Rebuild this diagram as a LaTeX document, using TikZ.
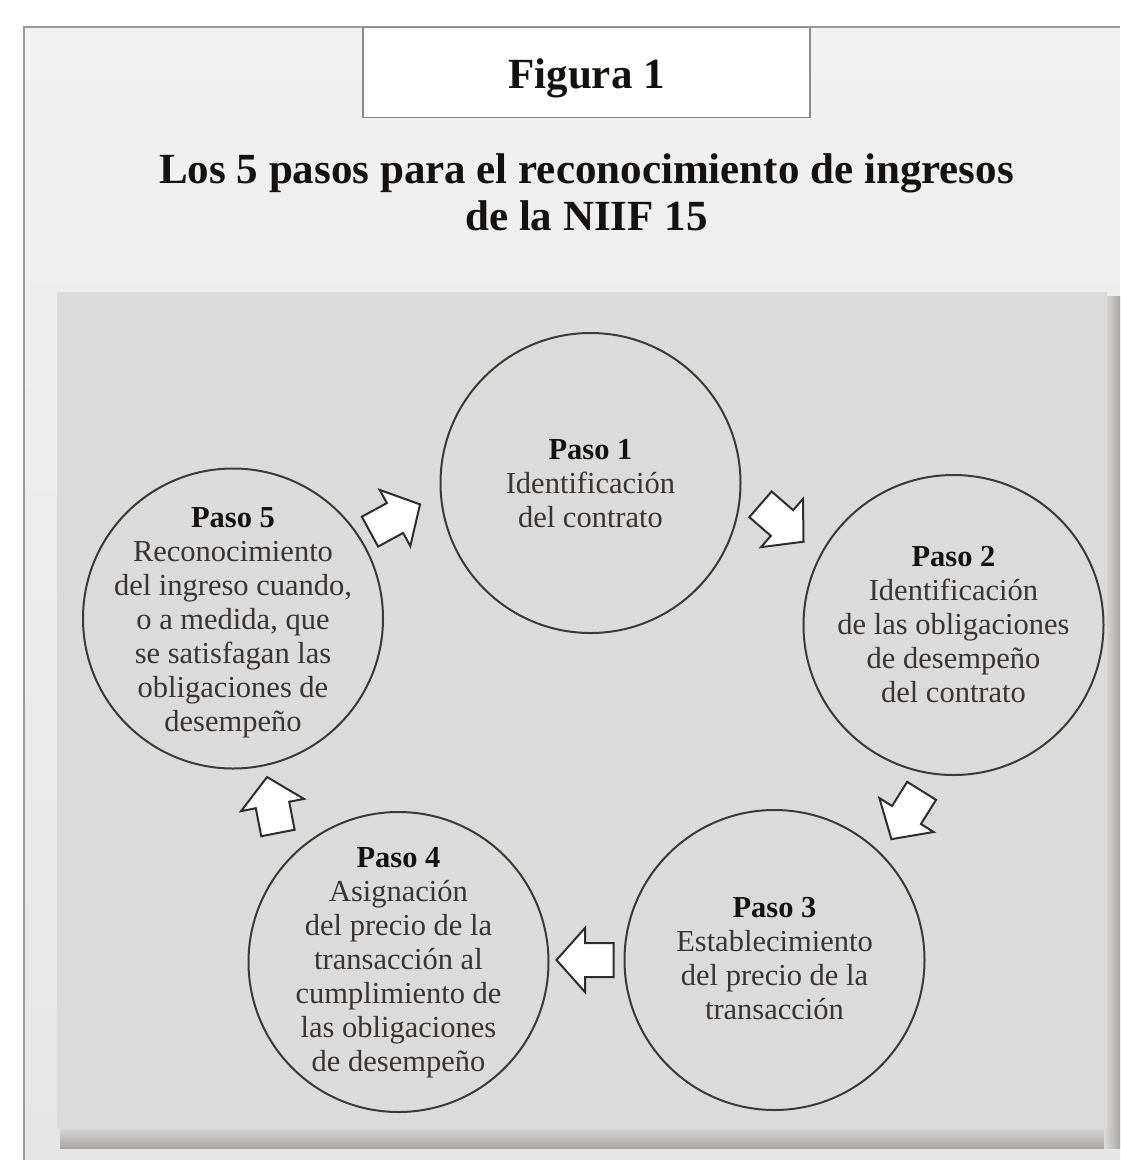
\documentclass[tikz,border=0pt]{standalone}
\usepackage{fontspec}
\setmainfont{Liberation Serif}
\definecolor{framefilltop}{HTML}{F1F1F1}
\definecolor{framefillbot}{HTML}{E6E6E6}
\definecolor{frameline}{HTML}{9A9A9A}
\definecolor{boxline}{HTML}{8A8A8A}
\definecolor{panelgray}{HTML}{DBDBDB}
\definecolor{shadowgray}{HTML}{A9A8A4}
\definecolor{circline}{HTML}{3D3935}
\definecolor{arrline}{HTML}{2F2D2B}
\definecolor{bodytext}{HTML}{383533}
\definecolor{boldtext}{HTML}{141210}
\newcommand{\stephead}[1]{{\bfseries\color{boldtext}#1}}
\begin{document}
\begin{tikzpicture}[x=1pt,y=-1pt,
  stepcircle/.style={circle, draw=circline, line width=2pt, minimum size=300pt, inner sep=0pt},
  steptext/.style={align=center, text=bodytext, font=\fontsize{30.5}{34}\selectfont, inner sep=0pt},
  arrowline/.style={draw=arrline, fill=white, line width=2pt, line join=miter},
  blockarrow/.pic={\path[arrowline] (-28.5,-17) -- (0,-17) -- (0,-32) -- (28.5,0) -- (0,32) -- (0,17) -- (-28.5,17) -- cycle;}
]
\useasboundingbox (0,0) rectangle (1120,1160);
\fill[white] (0,0) rectangle (1120,1160);
% outer frame
\shade[top color=framefilltop, bottom color=framefillbot] (24,27) rectangle (1120,1160);
\draw[frameline, line width=2pt] (24,1160) -- (24,27) -- (1120,27);
% title box
\node[draw=boxline, fill=white, line width=1.8pt, minimum width=447pt, minimum height=90pt, inner sep=0pt] (figbox) at (586.5,72.5) {};
\node[anchor=base, inner sep=0pt, text=boldtext, font=\bfseries\fontsize{43}{47}\selectfont] (figlabel) at (586.5,88) {Figura 1};
% title
\node[align=center, inner sep=0pt, text=boldtext, font=\bfseries\fontsize{43}{47}\selectfont] (title) at (586.5,191.8) {Los 5 pasos para el reconocimiento de ingresos\\de la NIIF 15};
% panel shadow
\shade[top color=panelgray, bottom color=shadowgray] (60,1126) rectangle (1112,1148);
\shade[left color=panelgray, right color=shadowgray] (1104,296) rectangle (1120,1148);
% panel
\fill[panelgray] (57,292) rectangle (1107,1129);
% circles
\node[stepcircle] (c1) at (590.5,483) {};
\node[stepcircle] (c2) at (953.5,625) {};
\node[stepcircle] (c3) at (774.5,960) {};
\node[stepcircle] (c4) at (398.5,962) {};
\node[stepcircle] (c5) at (233,618.5) {};
% texts
\node[steptext] (t1) at (590.5,484) {\stephead{Paso 1}\\Identificación\\del contrato};
\node[steptext] (t2) at (953.5,625) {\stephead{Paso 2}\\Identificación\\de las obligaciones\\de desempeño\\del contrato};
\node[steptext] (t3) at (774.5,959) {\stephead{Paso 3}\\Establecimiento\\del precio de la\\transacción};
\node[steptext] (t4) at (398.5,963) {\stephead{Paso 4}\\Asignación\\del precio de la\\transacción al\\cumplimiento de\\las obligaciones\\de desempeño};
\node[steptext] (t5) at (233,623) {\stephead{Paso 5}\\Reconocimiento\\del ingreso cuando,\\o a medida, que\\se satisfagan las\\obligaciones de\\desempeño};
% block arrows between steps
\coordinate (a51) at (395,518);
\coordinate (a12) at (782,523);
\coordinate (a23) at (906.5,815);
\coordinate (a34) at (585,960);
\coordinate (a45) at (272.5,805);
\pic[rotate=28.6] at (a51) {blockarrow};
\pic[rotate=-41] at (a12) {blockarrow};
\pic[rotate=238] at (a23) {blockarrow};
\pic[rotate=180] at (a34) {blockarrow};
\pic[rotate=101] at (a45) {blockarrow};
\end{tikzpicture}
\end{document}
